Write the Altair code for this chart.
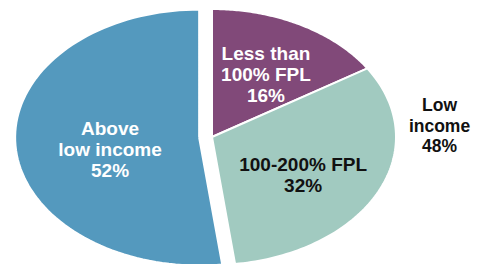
import altair as alt
import pandas as pd

# ---- data ----
categories = ["Less than 100% FPL", "100-200% FPL", "Above low income"]
values = [16, 32, 52]
slice_labels = ["Less than\n100% FPL\n16%", "100-200% FPL\n32%", "Above\nlow income\n52%"]
group_label = "Low\nincome\n48%"
group_members = ["Less than 100% FPL", "100-200% FPL"]

# ---- styles / layout ----
slice_colors = ["#814979", "#A1CAC0", "#5499BE"]
text_colors = ["#FFFFFF", "#111111", "#FFFFFF"]
explode = {"Above low income": 0.07}
label_radius = {"Less than 100% FPL": 0.566, "100-200% FPL": 0.579, "Above low income": 0.494}
label_turn = {"Less than 100% FPL": 2.4, "100-200% FPL": 6.0, "Above low income": -7.8}  # degrees
N = 90
LH = 20.7          # line height in px
PX_PER_Y = 128.0   # px per unit on the y scale

df = pd.DataFrame({
    "category": categories,
    "value": values,
    "order": list(range(len(categories))),
    "label": slice_labels,
    "explode": [explode.get(c, 0.0) for c in categories],
    "lr": [label_radius[c] for c in categories],
    "lt": [label_turn[c] for c in categories],
})

xscale = alt.Scale(domain=[-1.1087, 1.4076], nice=False, zero=False)
yscale = alt.Scale(domain=[-0.9922, 1.0078], nice=False, zero=False)

base = alt.Chart(df).transform_window(
    cum="sum(value)", sort=[alt.SortField("order")], frame=[None, 0]
).transform_joinaggregate(
    total="sum(value)"
).transform_calculate(
    a0="2*PI*(datum.cum-datum.value)/datum.total",
    a1="2*PI*datum.cum/datum.total",
).transform_calculate(
    mid="(datum.a0+datum.a1)/2",
).transform_calculate(
    ox="datum.explode*sin(datum.mid)",
    oy="datum.explode*cos(datum.mid)",
)

slices = base.transform_calculate(
    steps=f"sequence(0, {N + 3})"
).transform_flatten(
    ["steps"], as_=["step"]
).transform_calculate(
    ang=f"datum.a0 + (datum.a1-datum.a0)*(datum.step-1)/{N}",
    ctr=f"datum.step==0 || datum.step=={N + 2}",
).transform_calculate(
    px="datum.ox + (datum.ctr ? 0 : sin(datum.ang))",
    py="datum.oy + (datum.ctr ? 0 : cos(datum.ang))",
).mark_line(
    stroke="white", strokeWidth=2, strokeJoin="miter"
).encode(
    x=alt.X("px:Q", scale=xscale, axis=None),
    y=alt.Y("py:Q", scale=yscale, axis=None),
    order=alt.Order("step:Q"),
    detail="category:N",
    fill=alt.Fill("category:N", scale=alt.Scale(domain=categories, range=slice_colors), legend=None),
)

text_style = dict(font="Liberation Sans", fontWeight="bold", lineBreak="\n", lineHeight=LH,
                  align="center", baseline="middle")

labels = base.transform_calculate(
    nl="length(split(datum.label, '\\n'))",
    la="datum.mid + datum.lt*PI/180",
).transform_calculate(
    lx="datum.ox + datum.lr*sin(datum.la)",
    ly=f"datum.oy + datum.lr*cos(datum.la) + (datum.nl-1)*{LH}/2/{PX_PER_Y}",
).mark_text(fontSize=19, **text_style).encode(
    x=alt.X("lx:Q", scale=xscale, axis=None),
    y=alt.Y("ly:Q", scale=yscale, axis=None),
    text="label:N",
    color=alt.Color("category:N", scale=alt.Scale(domain=categories, range=text_colors), legend=None),
)

group = base.transform_filter(
    alt.FieldOneOfPredicate(field="category", oneOf=group_members)
).transform_aggregate(
    gsum="sum(value)", total="max(total)"
).transform_calculate(
    gm="PI*datum.gsum/datum.total",
    txt="'" + group_label.replace("\n", "\\n") + "'",
).transform_calculate(
    nl="length(split(datum.txt, '\\n'))",
).transform_calculate(
    gx="1.239*sin(datum.gm)",
    gy=f"1.269*cos(datum.gm) + (datum.nl-1)*{LH}/2/{PX_PER_Y}",
).mark_text(fontSize=17.5, color="#111111", **text_style).encode(
    x=alt.X("gx:Q", scale=xscale, axis=None),
    y=alt.Y("gy:Q", scale=yscale, axis=None),
    text="txt:N",
)

chart = alt.layer(slices, labels, group).resolve_scale(
    color="independent", fill="independent"
).properties(
    width=463, height=256, padding=0, autosize="none",
).configure_view(stroke=None)

chart.save("out.html", embed_options={"renderer": "svg", "actions": False})
